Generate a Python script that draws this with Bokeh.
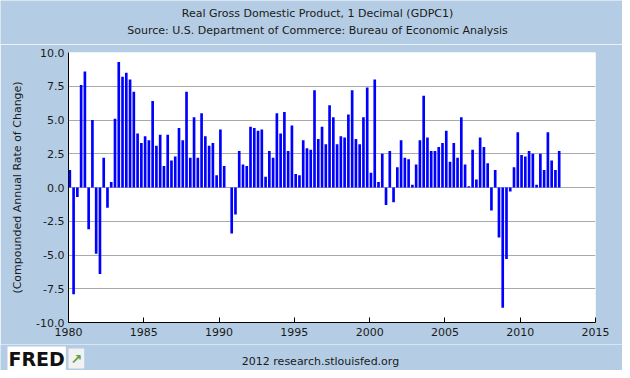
from bokeh.plotting import figure
from bokeh.models import FixedTicker, PrintfTickFormatter, Label, ColumnDataSource
from bokeh.layouts import column
from bokeh.embed import file_html
from bokeh.resources import INLINE

# ---- data -------------------------------------------------------------
start_year = 1980
growth = [
    1.3, -7.9, -0.7, 7.6,   # 1980
    8.6, -3.1, 5.0, -4.9,   # 1981
    -6.4, 2.2, -1.5, 0.4,   # 1982
    5.1, 9.3, 8.2, 8.5,     # 1983
    8.0, 7.1, 4.0, 3.3,     # 1984
    3.8, 3.5, 6.4, 3.1,     # 1985
    3.9, 1.6, 3.9, 2.0,     # 1986
    2.3, 4.4, 3.5, 7.1,     # 1987
    2.2, 5.2, 2.2, 5.5,     # 1988
    3.8, 3.1, 3.3, 0.9,     # 1989
    4.3, 1.6, 0.0, -3.4,    # 1990
    -2.0, 2.7, 1.7, 1.6,    # 1991
    4.5, 4.4, 4.2, 4.3,     # 1992
    0.8, 2.7, 2.2, 5.5,     # 1993
    4.0, 5.6, 2.7, 4.6,     # 1994
    1.0, 0.9, 3.5, 2.9,     # 1995
    2.8, 7.2, 3.6, 4.5,     # 1996
    3.2, 6.1, 5.2, 3.2,     # 1997
    3.8, 3.7, 5.4, 7.2,     # 1998
    3.6, 3.2, 5.2, 7.4,     # 1999
    1.1, 8.0, 0.4, 2.5,     # 2000
    -1.3, 2.7, -1.1, 1.5,   # 2001
    3.5, 2.2, 2.1, 0.2,     # 2002
    1.7, 3.5, 6.8, 3.7,     # 2003
    2.7, 2.7, 3.0, 3.3,     # 2004
    4.2, 1.9, 3.3, 2.2,     # 2005
    5.2, 1.7, 0.1, 2.8,     # 2006
    0.6, 3.7, 3.0, 1.8,     # 2007
    -1.7, 1.3, -3.7, -8.9,  # 2008
    -5.3, -0.3, 1.5, 4.1,   # 2009
    2.4, 2.3, 2.7, 2.5,     # 2010
    0.2, 2.5, 1.3, 4.1,     # 2011
    2.0, 1.3, 2.7,          # 2012
]
quarter_dates = [start_year + i / 4 for i in range(len(growth))]
x_ticks = [1980, 1985, 1990, 1995, 2000, 2005, 2010, 2015]
y_ticks = [-10.0, -7.5, -5.0, -2.5, 0.0, 2.5, 5.0, 7.5, 10.0]

title_1 = "Real Gross Domestic Product, 1 Decimal (GDPC1)"
title_2 = "Source: U.S. Department of Commerce: Bureau of Economic Analysis"
y_label = "(Compounded Annual Rate of Change)"
footer = "2012 research.stlouisfed.org"
logo_text = "FRED"

# ---- styles -----------------------------------------------------------
BG = "#B4CDE4"
FONT = "DejaVu Sans"
TXT = "#1a1a1a"
BAR_W = 0.177

src = ColumnDataSource(dict(
    left=quarter_dates,
    right=[d + BAR_W for d in quarter_dates],
    top=[max(v, 0) for v in growth],
    bottom=[min(v, 0) for v in growth],
))

W = 622
TOP_H = 44            # title strip: canvas rows 0..44
MAIN_TOP, MAIN_BOT = 44, 344
FOOT_H = 26           # footer strip: canvas rows 344..370
FL, FR, FT, FB = 68, 595, 52, 322   # chart frame edges in canvas pixels


def strip(height):
    s = figure(width=W, height=height, x_range=(0, 1), y_range=(0, 1),
               output_backend="svg", toolbar_location=None, title=None,
               x_axis_type=None, y_axis_type=None,
               min_border=0, min_border_left=0, min_border_right=0,
               min_border_top=0, min_border_bottom=0)
    s.frame_align = False
    s.border_fill_color = BG
    s.background_fill_color = BG
    s.outline_line_color = None
    s.grid.grid_line_color = None
    return s


def strip_label(s, top, height, txt, x, cy, **kw):
    opts = dict(text_font=FONT, text_font_size="11px", text_color=TXT,
                text_align="center", text_baseline="middle")
    opts.update(kw)
    s.add_layout(Label(x=x, y=top + height - cy, x_units="screen",
                       y_units="screen", text=txt, **opts))


# ---- title strip -------------------------------------------------------
head = strip(TOP_H)
strip_label(head, 0, TOP_H, title_1, 317, 13)
strip_label(head, 0, TOP_H, title_2, 317, 30)

# ---- main chart --------------------------------------------------------
H_MAIN = MAIN_BOT - MAIN_TOP
p = figure(width=W, height=H_MAIN, x_range=(1980, 2015), y_range=(-10, 10),
           output_backend="svg", toolbar_location=None, title=None,
           min_border_left=FL, min_border_right=W - FR,
           min_border_top=FT - MAIN_TOP, min_border_bottom=MAIN_BOT - FB)
p.frame_align = False
p.border_fill_color = BG
p.background_fill_color = "white"
p.outline_line_color = None

p.quad(left="left", right="right", top="top", bottom="bottom", source=src,
       fill_color="#0000FF", line_color=None)

p.xaxis.ticker = FixedTicker(ticks=x_ticks)
p.yaxis.ticker = FixedTicker(ticks=y_ticks)
p.yaxis.formatter = PrintfTickFormatter(format="%.1f")
for ax in (p.xaxis[0], p.yaxis[0]):
    ax.axis_line_color = "black"
    ax.axis_line_width = 1
    ax.major_label_text_font = FONT
    ax.major_label_text_font_size = "11px"
    ax.major_label_text_color = TXT
    ax.minor_tick_line_color = None
p.xaxis.major_tick_in = 5
p.xaxis.major_tick_out = 0
p.xaxis.major_tick_line_color = "black"
p.xaxis.major_label_standoff = 5
p.yaxis.major_tick_line_color = None
p.yaxis.major_tick_in = 0
p.yaxis.major_tick_out = 0
p.yaxis.major_label_standoff = 4
p.yaxis.axis_label = y_label
p.yaxis.axis_label_text_font = FONT
p.yaxis.axis_label_text_font_size = "11px"
p.yaxis.axis_label_text_font_style = "normal"
p.yaxis.axis_label_text_color = TXT
p.yaxis.axis_label_standoff = 9

p.xgrid.grid_line_color = None
p.ygrid.grid_line_color = "#AAAAAA"
p.ygrid.grid_line_width = 1

# ---- footer strip ------------------------------------------------------
foot = strip(FOOT_H)
strip_label(foot, MAIN_BOT, FOOT_H, footer, 320, 361)
strip_label(foot, MAIN_BOT, FOOT_H, logo_text, 7, 358,
            text_font_size="19px", text_font_style="bold",
            text_color="#111111", text_align="left",
            background_fill_color="white", padding=1)
strip_label(foot, MAIN_BOT, FOOT_H, "\u2197", 68, 358,
            text_font_size="14px", text_font_style="bold",
            text_color="#5f9e4c", text_align="left",
            background_fill_color="#f2f2f2", padding=2)

layout = column(head, p, foot, spacing=0)
open("out.html", "w").write(file_html(layout, INLINE))
